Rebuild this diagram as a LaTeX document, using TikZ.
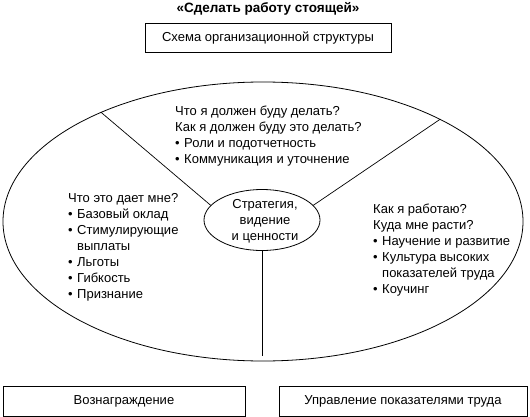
\documentclass[tikz,border=0pt]{standalone}
\usepackage{fontspec}
\setmainfont{Liberation Sans}
\usetikzlibrary{shapes.geometric}
\newcommand\bul{\makebox[9pt][l]{\textbullet}}
\begin{document}
\begin{tikzpicture}[x=1pt,y=-1pt,
  txt/.style={font=\fontsize{13}{16}\selectfont},
  frame/.style={draw, line width=0.8pt, minimum height=29pt, inner sep=0pt, txt},
  block/.style={txt, align=left, anchor=north west, inner sep=0pt},
  rim/.style={draw, ellipse, line width=0.8pt, inner sep=0pt},
  spoke/.style={line width=0.7pt}]
\useasboundingbox (0,0) rectangle (530,417);

% heading and the box above the oval
\node[font=\bfseries\fontsize{13.5}{15}\selectfont] (title) at (268,9) {«Сделать работу стоящей»};
\node[frame, minimum width=246pt] (org) at (268,38) {Схема организационной структуры};

% the big oval and the core in its middle
\node[rim, minimum width=520pt, minimum height=279pt] (outer) at (263,221.5) {};
\node[rim, minimum width=116pt, minimum height=61pt] (core) at (262,220) {};
\node[txt, align=center, inner sep=0pt] (corelabel) at (265,221) {Стратегия,\\видение\\и ценности};

% spokes dividing the oval into three parts
\coordinate (foot) at (262,356);
\draw[spoke] (outer.146.3) -- (core.164);
\draw[spoke] (outer.30.6) -- (core.16);
\draw[spoke] (core.south) -- (foot);

% the three sectors
\node[block] (doing) at (175,106) {Что я должен буду делать?\\Как я должен буду это делать?\\\bul Роли и подотчетность\\\bul Коммуникация и уточнение};
\node[block] (gain) at (68,193) {Что это дает мне?\\\bul Базовый оклад\\\bul Стимулирующие\\\hspace*{9pt}выплаты\\\bul Льготы\\\bul Гибкость\\\bul Признание};
\node[block] (growth) at (373,204) {Как я работаю?\\Куда мне расти?\\\bul Научение и развитие\\\bul Культура высоких\\\hspace*{9pt}показателей труда\\\bul Коучинг};

% boxes below the oval
\node[frame, minimum width=242pt, minimum height=30pt] (reward) at (124,401) {Вознаграждение};
\node[frame, minimum width=248pt, minimum height=30pt] (perf) at (403,401) {Управление показателями труда};
\end{tikzpicture}
\end{document}
